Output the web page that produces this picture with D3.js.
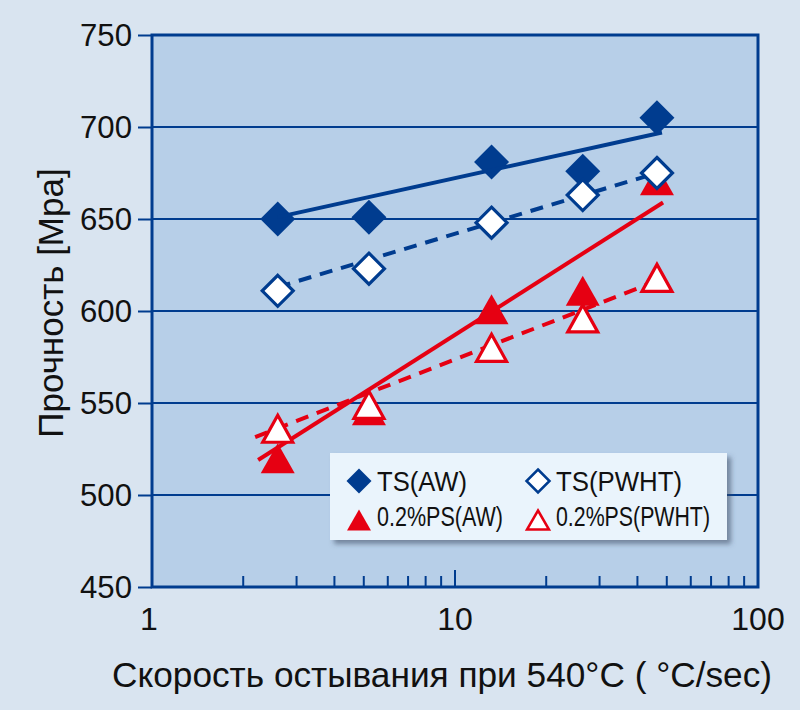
<!DOCTYPE html>
<html>
<head>
<meta charset="utf-8">
<script src="https://cdn.jsdelivr.net/npm/d3@7"></script>
<style>
  body { margin: 0; background: #d9e4f0; }
  svg text { font-family: "Liberation Sans", Arial, sans-serif; fill: #111; }
</style>
</head>
<body>
<div id="content"></div>
<script>
// cooling rate at 540°C (°C/sec)
const coolRate = [2.6, 5.2, 13.2, 26.4, 46.4];

// strength values [MPa]
const tsAW = [650, 651, 681, 676, 705];
const tsPWHT = [611, 623, 648, 663, 675];
const psAW = [520, 546, 601, 611, 671];
const psPWHT = [536, 549, 580, 596, 618];

// trend line ends
const tsAWFitX = [2.6, 48.2], tsAWFit = [651, 697];
const tsPWHTFitX = [2.6, 46.4], tsPWHTFit = [613, 675];
const psAWFitX = [2.24, 48.6], psAWFit = [519, 659];
const psPWHTFitX = [2.19, 47.5], psPWHTFit = [531.5, 617];

const yTicks = [450, 500, 550, 600, 650, 700, 750];
const xTickLabels = [1, 10, 100];
const xMinorTicks = [2, 3, 4, 5, 6, 7, 8, 9, 20, 30, 40, 50, 60, 70, 80, 90];

const legendItems = [
    { name: "TS(AW)", shape: "diamond", filled: true },
    { name: "TS(PWHT)", shape: "diamond", filled: false },
    { name: "0.2%PS(AW)", shape: "triangle", filled: true },
    { name: "0.2%PS(PWHT)", shape: "triangle", filled: false }
];

const BLUE = "#003c8f";
const RED = "#e60012";
// the legend font is narrow, so squeeze the labels to its widths
const legendTextWidth = [90, 126, 126, 154];

var width = 800, height = 710;
var svg = d3.select("#content").append("svg")
    .attr("width", width)
    .attr("height", height);

svg.append("rect").attr("width", width).attr("height", height).attr("fill", "#d9e4f0");

var xScale = d3.scaleLog().domain([1, 100]).range([152, 758]);
var yScale = d3.scaleLinear().domain([450, 750]).range([587, 35]);

var defs = svg.append("defs");
var f = defs.append("filter").attr("id", "shadow").attr("x", "-10%").attr("y", "-20%").attr("width", "130%").attr("height", "150%");
f.append("feDropShadow").attr("dx", 4).attr("dy", 4).attr("stdDeviation", 2.5)
    .attr("flood-color", "#3a4a60").attr("flood-opacity", 0.55);

// plot area
svg.append("rect")
    .attr("x", xScale(1)).attr("y", yScale(750))
    .attr("width", xScale(100) - xScale(1))
    .attr("height", yScale(450) - yScale(750))
    .attr("fill", "#b7cfe8");

// horizontal grid
svg.append("g").selectAll("line")
    .data(yTicks.filter(t => t > 450 && t < 750))
    .enter().append("line")
    .attr("x1", xScale(1)).attr("x2", xScale(100))
    .attr("y1", d => yScale(d)).attr("y2", d => yScale(d))
    .attr("stroke", BLUE).attr("stroke-width", 1.8);

// y axis ticks + labels
var yAxis = d3.axisLeft(yScale).tickValues(yTicks).tickSize(14).tickPadding(6);
var gy = svg.append("g").attr("transform", "translate(" + xScale(1) + ",0)").call(yAxis);
gy.select(".domain").remove();
gy.selectAll(".tick line").attr("stroke", BLUE).attr("stroke-width", 2);
gy.selectAll(".tick text").attr("font-size", 32).attr("fill", "#111")
    .attr("font-family", "Liberation Sans, Arial, sans-serif")
    .attr("textLength", 52).attr("lengthAdjust", "spacingAndGlyphs");

// x axis minor / major ticks (inside)
svg.append("g").selectAll("line")
    .data(xMinorTicks.concat([10]))
    .enter().append("line")
    .attr("x1", d => xScale(d)).attr("x2", d => xScale(d))
    .attr("y1", yScale(450))
    .attr("y2", d => yScale(450) - (d === 10 ? 17 : 11))
    .attr("stroke", BLUE).attr("stroke-width", 2);

svg.append("g").selectAll("text")
    .data(xTickLabels)
    .enter().append("text")
    .attr("x", d => xScale(d) + (d === 1 ? -3 : 0))
    .attr("y", 630)
    .attr("text-anchor", "middle")
    .attr("font-size", 32)
    .text(d => d);

// frame
svg.append("rect")
    .attr("x", xScale(1)).attr("y", yScale(750))
    .attr("width", xScale(100) - xScale(1))
    .attr("height", yScale(450) - yScale(750))
    .attr("fill", "none").attr("stroke", BLUE).attr("stroke-width", 3);

// axis titles
svg.append("text")
    .attr("transform", "translate(63,303) rotate(-90)")
    .attr("text-anchor", "middle")
    .attr("font-size", 35)
    .text("Прочность [Мра]");

svg.append("text")
    .attr("x", 112).attr("y", 687)
    .attr("font-size", 35)
    .attr("textLength", 660).attr("lengthAdjust", "spacingAndGlyphs")
    .text("Скорость остывания при 540°C ( °C/sec)");

// marker paths
function diamondPath(s) {
    return "M0," + (-s) + "L" + s + ",0L0," + s + "L" + (-s) + ",0Z";
}
function trianglePath(w, h) {
    return "M0," + (-h / 2) + "L" + (w / 2) + "," + (h / 2) + "L" + (-w / 2) + "," + (h / 2) + "Z";
}

function drawMarkers(values, shape, filled, color) {
    svg.append("g").selectAll("path")
        .data(values)
        .enter().append("path")
        .attr("transform", (d, i) => "translate(" + xScale(coolRate[i]) + "," + yScale(d) + ")")
        .attr("d", shape === "diamond" ? (filled ? diamondPath(17.5) : diamondPath(15.5)) : (filled ? trianglePath(34, 30) : trianglePath(30, 27)))
        .attr("fill", filled ? color : "#fff")
        .attr("stroke", filled ? "none" : color)
        .attr("stroke-width", filled ? 0 : 3.2)
        .attr("stroke-linejoin", "miter");
}

function drawFit(xs, ys, color, dashed) {
    var line = d3.line().x(d => xScale(d[0])).y(d => yScale(d[1]));
    svg.append("path")
        .datum(xs.map((x, i) => [x, ys[i]]))
        .attr("d", line)
        .attr("fill", "none")
        .attr("stroke", color)
        .attr("stroke-width", 4)
        .attr("stroke-dasharray", dashed ? "13,9" : null);
}

drawMarkers(tsAW, "diamond", true, BLUE);
drawMarkers(psAW, "triangle", true, RED);
drawFit(tsAWFitX, tsAWFit, BLUE, false);
drawFit(psAWFitX, psAWFit, RED, false);
drawFit(tsPWHTFitX, tsPWHTFit, BLUE, true);
drawFit(psPWHTFitX, psPWHTFit, RED, true);
drawMarkers(tsPWHT, "diamond", false, BLUE);
drawMarkers(psPWHT, "triangle", false, RED);

// legend
var lg = svg.append("g").attr("transform", "translate(330,453)");
lg.append("rect")
    .attr("width", 397).attr("height", 87)
    .attr("fill", "#eaf4fc")
    .attr("filter", "url(#shadow)");

var items = lg.selectAll("g.item")
    .data(legendItems)
    .enter().append("g")
    .attr("class", "item")
    .attr("transform", (d, i) => "translate(" + (i % 2 === 0 ? 29 : 208) + "," + (i < 2 ? 28 : 67) + ")");

items.append("path")
    .attr("d", d => d.shape === "diamond" ? (d.filled ? diamondPath(12.5) : diamondPath(11.5)) : (d.filled ? trianglePath(24, 21) : trianglePath(22, 19)))
    .attr("fill", d => d.filled ? (d.shape === "diamond" ? BLUE : RED) : "#fff")
    .attr("stroke", d => d.filled ? "none" : (d.shape === "diamond" ? BLUE : RED))
    .attr("stroke-width", 2.5);

items.append("text")
    .attr("x", 18)
    .attr("y", (d, i) => i < 2 ? 10 : 6)
    .attr("font-size", 27)
    .attr("textLength", (d, i) => legendTextWidth[i])
    .attr("lengthAdjust", "spacingAndGlyphs")
    .text(d => d.name);
</script>
</body>
</html>
